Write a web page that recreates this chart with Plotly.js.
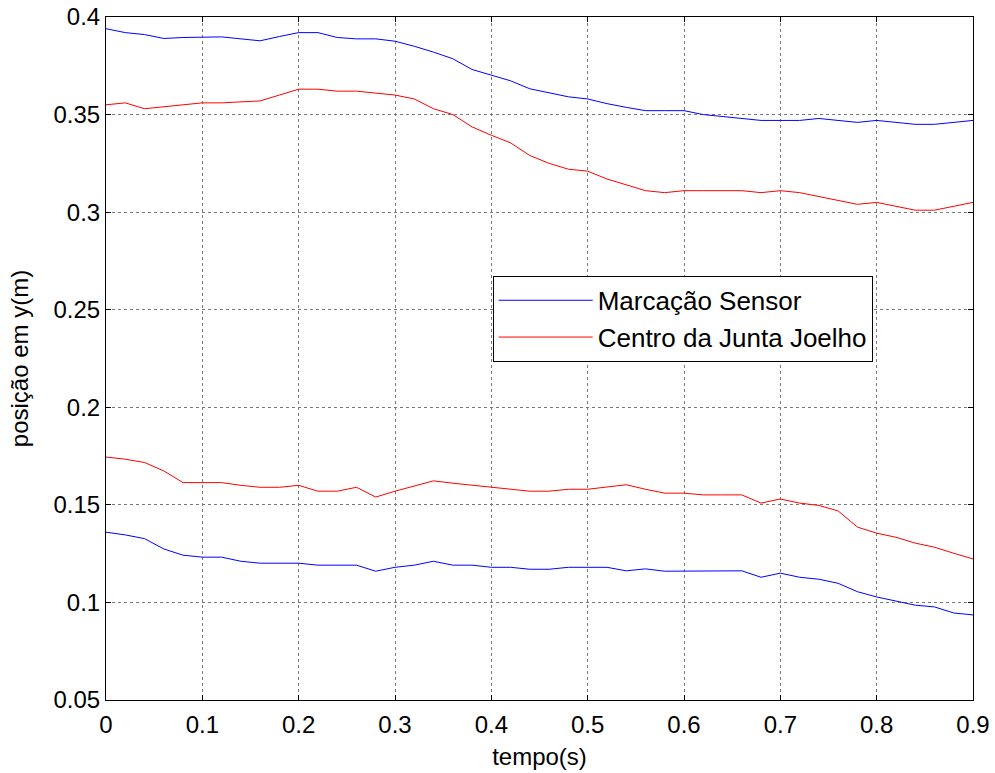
<!DOCTYPE html>
<html>
<head>
<meta charset="utf-8">
<script src="https://cdn.plot.ly/plotly-3.0.1.min.js"></script>
<style>
  html, body { margin: 0; padding: 0; background: #fff; }
  #chart { width: 995px; height: 773px; }
</style>
</head>
<body>
<div id="chart"></div>
<script>
// Time samples (s)
const tempo = [0, 0.02, 0.04, 0.06, 0.08, 0.10, 0.12, 0.14, 0.16, 0.18,
  0.20, 0.22, 0.24, 0.26, 0.28, 0.30, 0.32, 0.34, 0.36, 0.38,
  0.40, 0.42, 0.44, 0.46, 0.48, 0.50, 0.52, 0.54, 0.56, 0.58,
  0.60, 0.62, 0.64, 0.66, 0.68, 0.70, 0.72, 0.74, 0.76, 0.78,
  0.80, 0.82, 0.84, 0.86, 0.88, 0.90];

// Sensor marker, upper track (m)
const sensorSuperior = [0.394, 0.392, 0.391, 0.389, 0.3895, 0.3898, 0.3898, 0.3888, 0.3878, 0.390,
  0.392, 0.392, 0.3895, 0.3888, 0.3888, 0.3876, 0.385, 0.382, 0.3786, 0.3731,
  0.3702, 0.3673, 0.3632, 0.3611, 0.3591, 0.358, 0.3556, 0.3537, 0.352, 0.352,
  0.352, 0.350, 0.349, 0.348, 0.347, 0.347, 0.347, 0.348, 0.347, 0.346,
  0.347, 0.346, 0.345, 0.345, 0.346, 0.347];

// Sensor marker, lower track (m)
const sensorInferior = [0.136, 0.1346, 0.1327, 0.1274, 0.1242, 0.1232, 0.1232, 0.1211, 0.1201, 0.1201,
  0.1201, 0.1191, 0.1191, 0.1191, 0.116, 0.118, 0.1191, 0.1211, 0.1191, 0.1191,
  0.118, 0.118, 0.117, 0.117, 0.118, 0.118, 0.118, 0.1162, 0.1172, 0.116,
  0.116, 0.116, 0.116, 0.1162, 0.1129, 0.115, 0.1129, 0.1119, 0.1098, 0.1055,
  0.1028, 0.1008, 0.0986, 0.0977, 0.0946, 0.0936];

// Knee joint centre, upper track (m)
const joelhoSuperior = [0.355, 0.356, 0.353, 0.354, 0.355, 0.356, 0.356, 0.3565, 0.357, 0.360,
  0.363, 0.363, 0.362, 0.362, 0.361, 0.360, 0.358, 0.353, 0.350, 0.3437,
  0.3394, 0.3355, 0.329, 0.325, 0.322, 0.321, 0.317, 0.314, 0.311, 0.310,
  0.311, 0.311, 0.311, 0.311, 0.310, 0.311, 0.310, 0.308, 0.306, 0.304,
  0.305, 0.303, 0.301, 0.301, 0.303, 0.305];

// Knee joint centre, lower track (m)
const joelhoInferior = [0.1745, 0.1734, 0.1717, 0.1674, 0.1614, 0.1614, 0.1614, 0.160, 0.159, 0.159,
  0.160, 0.157, 0.157, 0.159, 0.154, 0.157, 0.1597, 0.1623, 0.1611, 0.1601,
  0.1591, 0.158, 0.157, 0.157, 0.158, 0.158, 0.1591, 0.1603, 0.158, 0.156,
  0.156, 0.1551, 0.1551, 0.1551, 0.1509, 0.153, 0.1509, 0.1497, 0.1469, 0.1386,
  0.1355, 0.1334, 0.1304, 0.1283, 0.1252, 0.1223];

const nomeSensor = 'Marcação Sensor';
const nomeJoelho = 'Centro da Junta Joelho';

const FONT = 'Liberation Sans, Arial, Helvetica, sans-serif';
const TAM = 24;

function linha(y, nome, cor, mostrar) {
  return {
    x: tempo, y: y, type: 'scatter', mode: 'lines',
    name: nome, legendgroup: nome, showlegend: mostrar,
    line: { color: cor, width: 1 },
    hoverinfo: 'x+y'
  };
}

const traces = [
  linha(sensorSuperior, nomeSensor, '#0000ff', true),
  linha(joelhoSuperior, nomeJoelho, '#ff0000', true),
  linha(sensorInferior, nomeSensor, '#0000ff', false),
  linha(joelhoInferior, nomeJoelho, '#ff0000', false)
];

const eixo = {
  showline: true, linecolor: '#000', linewidth: 1, mirror: 'all',
  ticks: 'inside', ticklen: 5, tickcolor: '#000', tickwidth: 1,
  showgrid: true, gridcolor: '#7a7a7a', gridwidth: 1, griddash: 'dot',
  zeroline: false,
  tickfont: { family: FONT, size: TAM, color: '#000' }
};

const layout = {
  width: 995, height: 773,
  paper_bgcolor: '#fff', plot_bgcolor: '#fff',
  margin: { l: 106, r: 22, t: 17, b: 73 },
  font: { family: FONT, color: '#000' },
  xaxis: Object.assign({}, eixo, {
    range: [0, 0.9], tick0: 0, dtick: 0.1, ticklabelstandoff: 3,
    title: { text: 'tempo(s)', font: { family: FONT, size: TAM, color: '#000' }, standoff: 11 }
  }),
  yaxis: Object.assign({}, eixo, {
    range: [0.05, 0.4], tick0: 0.05, dtick: 0.05,
    title: { text: 'posição em y(m)', font: { family: FONT, size: TAM, color: '#000' }, standoff: 18 }
  }),
  legend: {
    x: 0.446, y: 0.621, xanchor: 'left', yanchor: 'top',
    bgcolor: '#fff', bordercolor: '#000', borderwidth: 1,
    font: { family: FONT, size: 26, color: '#000' },
    itemwidth: 94, tracegroupgap: 0
  },
  showlegend: true
};

Plotly.newPlot('chart', traces, layout, { displayModeBar: false, staticPlot: true });
</script>
</body>
</html>
